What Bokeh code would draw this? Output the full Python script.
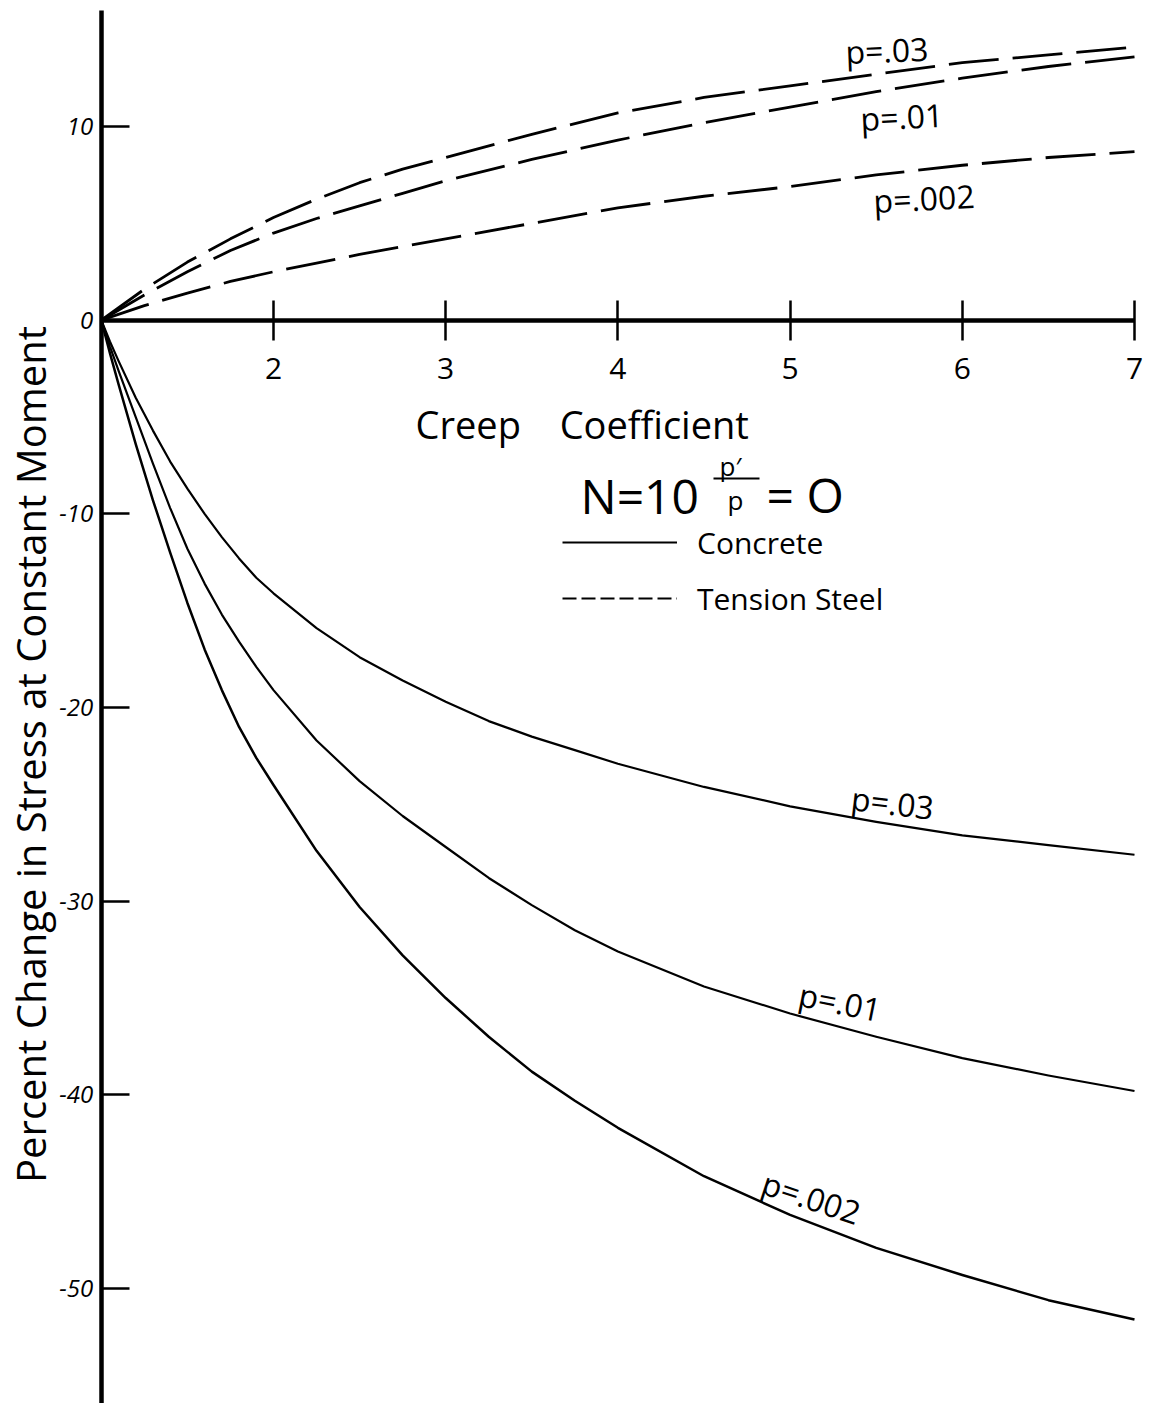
from math import pi
from bokeh.plotting import figure
from bokeh.models import Range1d, LinearAxis, FixedTicker, Legend, LegendItem
from bokeh.core.properties import value
from bokeh.embed import file_html
from bokeh.resources import INLINE

# ---------------- data ----------------
creep_solid = [1.0, 1.05, 1.1, 1.2, 1.3, 1.4, 1.5, 1.6, 1.7, 1.8, 1.9, 2.0,
               2.25, 2.5, 2.75, 3.0, 3.25, 3.5, 3.75, 4.0, 4.5, 5.0, 5.5, 6.0, 6.5, 7.0]
concrete_p030 = [0, -1.1, -2.1, -4.0, -5.7, -7.3, -8.7, -10.0, -11.2, -12.3, -13.3, -14.1,
                 -15.9, -17.4, -18.6, -19.7, -20.7, -21.5, -22.2, -22.9, -24.1, -25.1,
                 -25.9, -26.6, -27.1, -27.6]
concrete_p010 = [0, -1.35, -2.6, -5.0, -7.4, -9.7, -11.8, -13.6, -15.2, -16.6, -17.9, -19.1,
                 -21.7, -23.8, -25.6, -27.2, -28.8, -30.2, -31.5, -32.6, -34.4, -35.8,
                 -37.0, -38.1, -39.0, -39.8]
concrete_p002 = [0, -1.7, -3.3, -6.4, -9.3, -12.0, -14.6, -17.0, -19.1, -21.0, -22.6, -24.0,
                 -27.4, -30.3, -32.8, -35.0, -37.0, -38.8, -40.3, -41.7, -44.2, -46.2,
                 -47.9, -49.3, -50.6, -51.6]

creep_dash = [1.0, 1.25, 1.5, 1.75, 2.0, 2.25, 2.5, 2.75, 3.0, 3.5, 4.0, 4.5,
              5.0, 5.5, 6.0, 6.5, 7.0]
steel_p030 = [0, 1.6, 3.0, 4.2, 5.3, 6.25, 7.1, 7.8, 8.4, 9.6, 10.7, 11.5,
              12.1, 12.7, 13.3, 13.7, 14.1]
steel_p010 = [0, 1.3, 2.5, 3.6, 4.5, 5.25, 5.9, 6.55, 7.2, 8.3, 9.3, 10.2,
              11.0, 11.8, 12.5, 13.1, 13.6]
steel_p002 = [0, 0.75, 1.4, 2.0, 2.5, 2.95, 3.4, 3.8, 4.2, 5.0, 5.8, 6.4,
              6.9, 7.5, 8.0, 8.4, 8.7]

x_ticks = [2, 3, 4, 5, 6, 7]
x_tick_labels = ["2", "3", "4", "5", "6", "7"]
y_ticks = [10, 0, -10, -20, -30, -40, -50]
y_tick_labels = ["10", "0", "-10", "-20", "-30", "-40", "-50"]

curve_labels = ["p=.03", "p=.01", "p=.002"]

# ---------------- layout helpers (canvas pixel -> data) ----------------
W, H = 1153, 1403
FONT = "Open Sans"


def cx(px):
    return 1 + (px - 100.8) / 172.2


def vy(py):
    return (319.7 - py) / 19.367


p = figure(width=W, height=H,
           x_range=Range1d(cx(0), cx(W)), y_range=Range1d(vy(H), vy(0)),
           x_axis_type=None, y_axis_type=None,
           output_backend="svg", toolbar_location=None,
           min_border=0, outline_line_color=None,
           background_fill_color="white", border_fill_color="white")

# ---------------- axes ----------------
xaxis = LinearAxis(fixed_location=0, bounds=(1, 7),
                   ticker=FixedTicker(ticks=x_ticks),
                   major_label_overrides=dict(zip(x_ticks, x_tick_labels)),
                   axis_line_width=4.5, axis_line_color="black",
                   major_tick_in=20, major_tick_out=20,
                   major_tick_line_width=2.5, major_tick_line_color="black",
                   minor_tick_line_color=None,
                   major_label_text_font=FONT, major_label_text_font_size="30px",
                   major_label_text_color="black", major_label_standoff=18)
p.add_layout(xaxis, "below")

yaxis = LinearAxis(fixed_location=1, bounds=(vy(H) - 1, vy(10)),
                   ticker=FixedTicker(ticks=y_ticks),
                   major_label_overrides=dict(zip(y_ticks, y_tick_labels)),
                   axis_line_width=4.5, axis_line_color="black",
                   major_tick_in=28, major_tick_out=0,
                   major_tick_line_width=2.5, major_tick_line_color="black",
                   minor_tick_line_color=None,
                   major_label_text_font=FONT, major_label_text_font_size="24px",
                   major_label_text_font_style="italic",
                   major_label_text_color="black", major_label_standoff=8)
p.add_layout(yaxis, "left")

# ---------------- curves ----------------
r_c030 = p.line(creep_solid, concrete_p030, line_color="black", line_width=2.2, line_join="round")
r_c010 = p.line(creep_solid, concrete_p010, line_color="black", line_width=2.2, line_join="round")
r_c002 = p.line(creep_solid, concrete_p002, line_color="black", line_width=2.5, line_join="round")

for ys in (steel_p030, steel_p010, steel_p002):
    p.line(creep_dash, ys, line_color="black", line_width=2.8, line_dash="50 14")

# legend proxy for the short-dash sample (draws nothing on the plot itself)
nan = float("nan")
r_leg_dash = p.line(x=[nan], y=[nan], line_color="black", line_width=2.2, line_dash="14 5")

legend = Legend(items=[LegendItem(label="Concrete", renderers=[r_c030]),
                       LegendItem(label="Tension Steel", renderers=[r_leg_dash])],
                location=(562, 784), orientation="vertical",
                border_line_color=None, background_fill_alpha=0,
                padding=0, margin=0, spacing=14,
                glyph_width=115, glyph_height=42, label_height=42, label_standoff=20,
                label_text_font=FONT, label_text_font_size="30px", label_text_color="black")
p.add_layout(legend)


# ---------------- texts ----------------
def txt(xp, yp, s, size, angle=0.0, align="left", baseline="alphabetic", style="normal"):
    p.text(x=[cx(xp)], y=[vy(yp)], text=[s], angle=angle,
           text_font=value(FONT), text_font_size=f"{size}px", text_font_style=style,
           text_align=align, text_baseline=baseline, text_color="black")


# axis titles
txt(415, 423, "Creep \u2002 Coefficient", 38)
txt(30, 754, "Percent Change in Stress at Constant Moment", 40,
    angle=pi / 2, align="center", baseline="middle")

# N=10  p'/p = 0
txt(580, 495, "N=10", 48)
txt(719, 465, "p\u2032", 26)
p.segment(x0=[cx(713)], y0=[vy(478)], x1=[cx(759)], y1=[vy(478)],
          line_color="black", line_width=2)
txt(727, 499, "p", 26)
txt(766, 494, "= O", 48)

# curve labels: tension steel (dashed)
txt(845, 51, curve_labels[0], 32, angle=0.04)
txt(860, 118, curve_labels[1], 32, angle=0.05)
txt(873, 200, curve_labels[2], 32, angle=0.05)

# curve labels: concrete (solid)
txt(851, 797, curve_labels[0], 32, angle=-0.12)
txt(799, 993, curve_labels[1], 32, angle=-0.2)
txt(763, 1181, curve_labels[2], 32, angle=-0.32)

open("out.html", "w").write(file_html(p, INLINE))
